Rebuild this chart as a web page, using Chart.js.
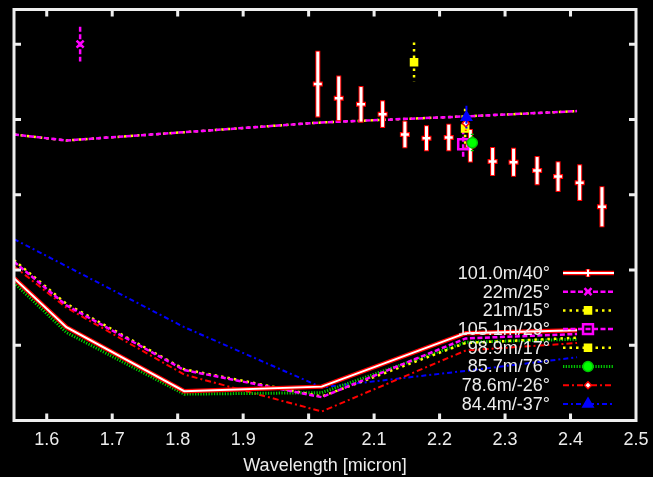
<!DOCTYPE html>
<html>
<head>
<meta charset="utf-8">
<title>Visibility vs wavelength</title>
<script src="https://cdn.jsdelivr.net/npm/chart.js@4"></script>
<style>
  html, body { margin: 0; padding: 0; background: #000; }
  canvas { display: block; }
</style>
</head>
<body>
<canvas id="visChart" width="653" height="477"></canvas>
<script>
// wavelengths (micron) where the model curves are sampled
const modelWl = [1.55, 1.63, 1.81, 2.02, 2.24, 2.41];

// model curves, one per baseline
const model101 = [1.89, 1.24, 0.39, 0.45, 1.16, 1.20];
const model22  = [3.80, 3.72, 3.83, 3.96, 4.04, 4.11];
const model21  = [3.80, 3.72, 3.83, 3.96, 4.04, 4.11];
const model105 = [2.11, 1.53, 0.67, 0.31, 1.09, 1.15];
const model98  = [2.13, 1.55, 0.68, 0.32, 1.03, 1.10];
const model85  = [1.83, 1.17, 0.35, 0.37, 1.04, 1.08];
const model78  = [2.05, 1.50, 0.61, 0.12, 0.93, 1.03];
const model84  = [2.41, 2.05, 1.24, 0.44, 0.66, 0.84];

// measurements: wavelength, value, error
const wl101  = [2.014, 2.046, 2.080, 2.113, 2.147, 2.180, 2.214, 2.247, 2.281, 2.313, 2.349, 2.381, 2.414, 2.448];
const val101 = [4.47, 4.28, 4.20, 4.07, 3.80, 3.75, 3.76, 3.65, 3.44, 3.43, 3.32, 3.24, 3.16, 2.84];
const err101 = [0.43, 0.29, 0.23, 0.17, 0.17, 0.16, 0.17, 0.21, 0.18, 0.18, 0.18, 0.19, 0.23, 0.26];

const wl22 = [1.651];  const val22 = [5.00];  const err22 = [0.23];
const wl21 = [2.161];  const val21 = [4.76];  const err21 = [0.26];
const wl105 = [2.236]; const val105 = [3.67]; const err105 = [0.20];
const wl98 = [2.239];  const val98 = [3.88];  const err98 = [0.26];
const wl85 = [2.250];  const val85 = [3.69];  const err85 = [0.12];
const wl78 = [2.240];  const val78 = [3.95];  const err78 = [0.10];
const wl84 = [2.241];  const val84 = [4.03];  const err84 = [0.15];

const legendLabels = ['101.0m/40°', '22m/25°', '21m/15°', '105.1m/29°', '98.9m/17°', '85.7m/76°', '78.6m/-26°', '84.4m/-37°'];
const xTicks = [1.6, 1.7, 1.8, 1.9, 2.0, 2.1, 2.2, 2.3, 2.4, 2.5];
const xTickLabels = ['1.6', '1.7', '1.8', '1.9', '2', '2.1', '2.2', '2.3', '2.4', '2.5'];
const yTicks = [1, 2, 3, 4, 5];

const FONT = 'Liberation Sans, Arial, Helvetica, sans-serif';
const TEXT = '#ececec';

// line/marker look for each baseline, in legend order
const styles = [
  { color: '#ffffff', edge: '#ff0000', dash: [], width: 2, bar: 3, point: 'line', radius: 4, fill: '#ffffff' },
  { color: '#ff00ff', dash: [5, 2.5], width: 2.5, point: 'crossRot', radius: 5, fill: '#ff00ff' },
  { color: '#ffff00', dash: [2.5, 4], width: 2.5, point: 'rect', radius: 5, fill: '#ffff00' },
  { color: '#ff00ff', dash: [5, 2.5], width: 2.5, point: 'rect', radius: 7, fill: 'rgba(0,0,0,0)' },
  { color: '#ffff00', dash: [2.5, 4], width: 2.5, point: 'rect', radius: 5, fill: '#ffff00' },
  { color: '#00c800', dash: [1.3, 1.4], width: 3, point: 'circle', radius: 5, fill: '#00ff00' },
  { color: '#ff0000', dash: [6, 3, 2, 3], width: 2, point: 'rectRot', radius: 3.5, fill: '#ffffff' },
  { color: '#0000ff', dash: [5, 3, 2, 3], width: 2, point: 'triangle', radius: 6, fill: '#0000ff' }
];

const models = [model101, model22, model21, model105, model98, model85, model78, model84];
const wls = [wl101, wl22, wl21, wl105, wl98, wl85, wl78, wl84];
const vals = [val101, val22, val21, val105, val98, val85, val78, val84];
const errs = [err101, err22, err21, err105, err98, err85, err78, err84];

function pts(xs, ys) {
  return xs.map((x, i) => ({ x: x, y: ys[i] }));
}

const datasets = [];
// model curves, bottom to top
[7, 6, 5, 4, 3, 0, 2, 1].forEach(k => {
  const s = styles[k];
  if (s.edge) {
    datasets.push({ data: pts(modelWl, models[k]), showLine: true, borderColor: s.edge,
      borderWidth: 4.5, pointRadius: 0, fill: false, tension: 0 });
  }
  datasets.push({ data: pts(modelWl, models[k]), showLine: true, borderColor: s.color,
    borderWidth: s.width, borderDash: s.dash, pointRadius: 0, fill: false, tension: 0 });
});
// measured points with error bars
[0, 1, 2, 3, 4, 6, 7, 5].forEach(k => {
  const s = styles[k];
  datasets.push({ data: pts(wls[k], vals[k]), showLine: false, err: errs[k],
    barColor: s.color, barEdge: s.edge, barDash: s.dash, barWidth: s.bar || s.width,
    pointStyle: s.point, pointRadius: s.radius, pointBorderColor: k === 6 ? '#ff0000' : s.color,
    pointBackgroundColor: s.fill, pointBorderWidth: k === 0 ? 2.5 : (k === 3 || k === 1) ? 2.5 : 1.5 });
});
datasets.forEach((d, i) => { d.order = -i; });

const errorBars = {
  id: 'errorBars',
  beforeDatasetDraw(chart, args) {
    const ds = chart.data.datasets[args.index];
    if (!ds.err) return;
    const xs = chart.scales.x, ys = chart.scales.y, ctx = chart.ctx;
    ctx.save();
    ds.data.forEach((p, i) => {
      const px = xs.getPixelForValue(p.x);
      const top = ys.getPixelForValue(p.y + ds.err[i]);
      const bot = ys.getPixelForValue(p.y - ds.err[i]);
      const py = ys.getPixelForValue(p.y);
      if (ds.barEdge) {
        ctx.strokeStyle = ds.barEdge;
        ctx.lineWidth = ds.barWidth + 2;
        ctx.beginPath();
        ctx.moveTo(px, top - 1); ctx.lineTo(px, bot + 1);
        ctx.moveTo(px - 5, py); ctx.lineTo(px + 5, py);
        ctx.stroke();
      }
      ctx.strokeStyle = ds.barColor;
      ctx.lineWidth = ds.barWidth;
      ctx.setLineDash(ds.barDash || []);
      ctx.beginPath();
      ctx.moveTo(px, top); ctx.lineTo(px, bot);
      ctx.stroke();
    });
    ctx.restore();
  }
};

// gnuplot-style key: label right-aligned, sample line on its right
const keyBox = {
  id: 'keyBox',
  afterDatasetsDraw(chart) {
    const ctx = chart.ctx;
    const textRight = 550, x0 = 563, x1 = 614, mid = 588;
    ctx.save();
    ctx.font = '18px ' + FONT;
    ctx.textAlign = 'right';
    ctx.textBaseline = 'middle';
    legendLabels.forEach((label, i) => {
      const y = 273 + i * 18.7;
      const s = styles[i];
      ctx.fillStyle = TEXT;
      ctx.fillText(label, textRight, y + 1);
      if (s.edge) {
        ctx.strokeStyle = s.edge;
        ctx.lineWidth = 4.5;
        ctx.setLineDash([]);
        ctx.beginPath(); ctx.moveTo(x0, y); ctx.lineTo(x1, y);
        ctx.moveTo(mid, y - 4); ctx.lineTo(mid, y + 4);
        ctx.stroke();
      }
      ctx.strokeStyle = s.color;
      ctx.lineWidth = s.width;
      ctx.setLineDash(s.dash);
      ctx.beginPath(); ctx.moveTo(x0, y); ctx.lineTo(x1, y); ctx.stroke();
      ctx.setLineDash([]);
      if (s.edge) {
        ctx.beginPath(); ctx.moveTo(mid, y - 3.5); ctx.lineTo(mid, y + 3.5); ctx.stroke();
      } else {
        ctx.fillStyle = s.fill;
        ctx.strokeStyle = i === 6 ? '#ff0000' : s.color;
        ctx.lineWidth = (i === 3 || i === 1) ? 2.5 : 1.5;
        Chart.helpers.drawPoint(ctx, { pointStyle: s.point, radius: s.radius, rotation: 0, borderWidth: ctx.lineWidth }, mid, y);
      }
    });
    ctx.restore();
  }
};

// frame with inward ticks on all four sides
const frame = {
  id: 'frame',
  afterDraw(chart) {
    const { left, right, top, bottom } = chart.chartArea;
    const xs = chart.scales.x, ys = chart.scales.y, ctx = chart.ctx;
    const len = 7;
    ctx.save();
    ctx.strokeStyle = '#eeeeee';
    ctx.lineWidth = 3;
    ctx.beginPath();
    xTicks.forEach(v => {
      const px = xs.getPixelForValue(v);
      if (px >= right - 2) return;
      ctx.moveTo(px, bottom); ctx.lineTo(px, bottom - len);
      ctx.moveTo(px, top); ctx.lineTo(px, top + len);
    });
    yTicks.forEach(v => {
      const py = ys.getPixelForValue(v);
      ctx.moveTo(left, py); ctx.lineTo(left + len, py);
      ctx.moveTo(right, py); ctx.lineTo(right - len, py);
    });
    ctx.stroke();
    ctx.strokeRect(left, top, right - left, bottom - top);
    ctx.restore();
  }
};

new Chart(document.getElementById('visChart'), {
  type: 'scatter',
  data: { datasets: datasets },
  options: {
    responsive: false,
    animation: false,
    layout: { padding: { left: 14, right: 17, top: 8.5, bottom: 0 } },
    plugins: { legend: { display: false }, tooltip: { enabled: false } },
    scales: {
      x: {
        type: 'linear', min: 1.55, max: 2.5,
        afterBuildTicks: s => { s.ticks = xTicks.map(v => ({ value: v })); },
        afterFit: s => { s.height = 56.5; s.paddingLeft = 0; s.paddingRight = 0; },
        grid: { display: false, drawTicks: false },
        border: { display: false },
        ticks: {
          color: TEXT, padding: 9, maxRotation: 0, autoSkip: false,
          font: { family: FONT, size: 18 },
          callback: (v, i) => xTickLabels[i]
        },
        title: {
          display: true, text: 'Wavelength [micron]', color: TEXT,
          font: { family: FONT, size: 18 }, padding: { top: 0, bottom: 0 }
        }
      },
      y: { display: false, min: 0, max: 5.46 }
    }
  },
  plugins: [errorBars, keyBox, frame]
});
</script>
</body>
</html>
